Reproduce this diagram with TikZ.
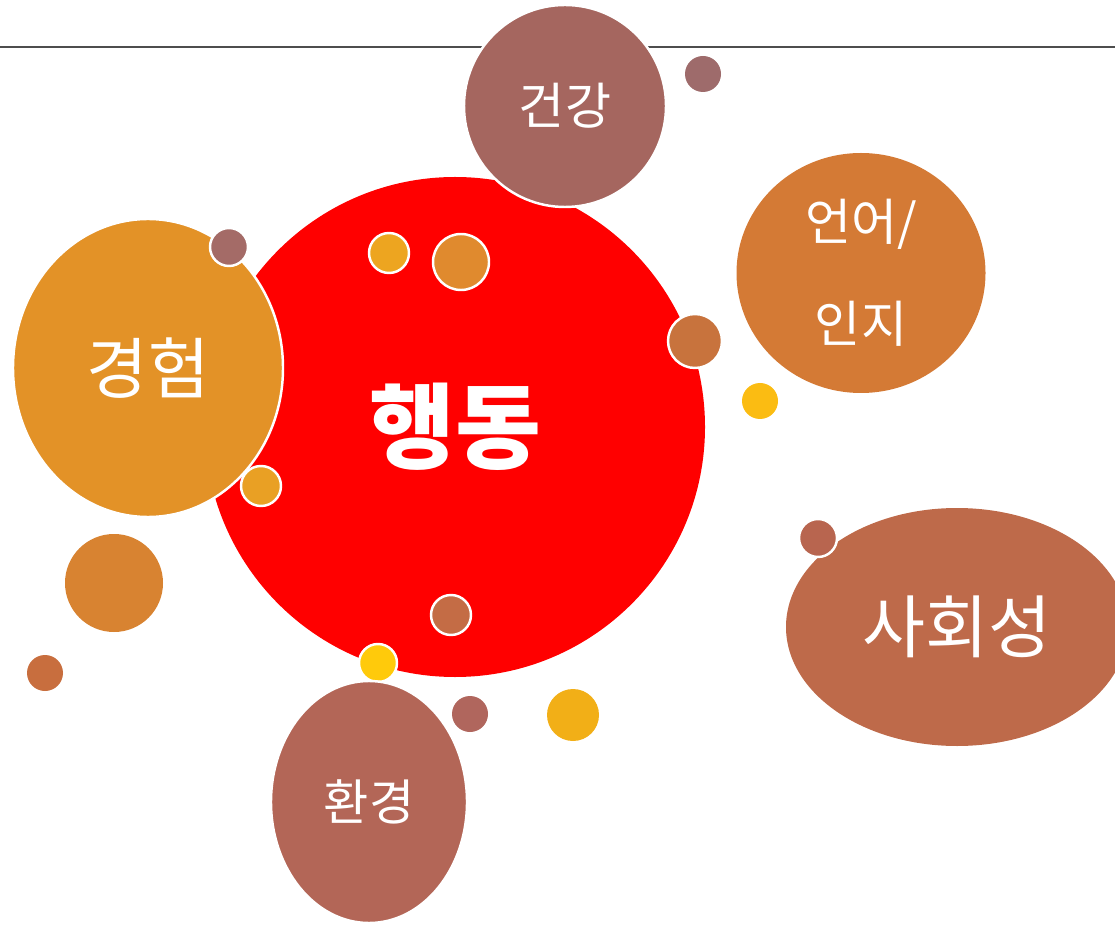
\documentclass[tikz,border=0pt]{standalone}
\usepackage{fontspec}
\setmainfont{Noto Sans CJK KR}
\usetikzlibrary{shapes.geometric}
\definecolor{cRed}{HTML}{FF0000}
\definecolor{cHealth}{HTML}{A5665F}
\definecolor{cMauve}{HTML}{9E6B6B}
\definecolor{cLang}{HTML}{D47A35}
\definecolor{cYel}{HTML}{FBBC12}
\definecolor{cExp}{HTML}{E39227}
\definecolor{cExpDot}{HTML}{A46B67}
\definecolor{cOrA}{HTML}{E9A024}
\definecolor{cOrB}{HTML}{EDA520}
\definecolor{cOrC}{HTML}{E08A2E}
\definecolor{cCop}{HTML}{C8733D}
\definecolor{cCopB}{HTML}{C46C45}
\definecolor{cGold}{HTML}{FFCA0B}
\definecolor{cEnv}{HTML}{B36657}
\definecolor{cEnvDot}{HTML}{B0665D}
\definecolor{cAmb}{HTML}{F2AF17}
\definecolor{cOrD}{HTML}{D88331}
\definecolor{cCopC}{HTML}{C86E3E}
\definecolor{cSoc}{HTML}{BE6A4A}
\definecolor{cSocDot}{HTML}{B8654F}
\definecolor{cLine}{HTML}{4D4D4D}
\def\pu{0.02cm}
\tikzset{
  blob/.style={ellipse, draw=white, line width=1.4pt, inner sep=0pt, text=white, align=center},
  dot/.style n args={2}{blob, fill=#1, minimum width={2*#2*\pu}, minimum height={2*#2*\pu}},
  oval/.style n args={3}{blob, fill=#1, minimum width={2*#2*\pu}, minimum height={2*#3*\pu}},
}
\begin{document}
\begin{tikzpicture}[x=\pu, y=-\pu]
\useasboundingbox (0,0) rectangle (1115,925);
\clip (0,0) rectangle (1115,925);
\coordinate (lineL) at (0,47);
\coordinate (lineR) at (1115,47);
\draw[cLine, line width=1.7pt] (lineL) -- (lineR);
\node[oval={cRed}{250}{250}, draw=none, font=\fontsize{53}{55}\selectfont\bfseries] (act) at (455,427) {행동};
\node[oval={cHealth}{101}{101}, font=\fontsize{28.5}{30}\selectfont] (health) at (565,106) {건강};
\node[dot={cMauve}{18}, draw=none] (d1) at (703,74) {};
\node[oval={cLang}{124.5}{120}, draw=none, font=\fontsize{28.5}{58}\selectfont] (lang) at (861,273) {언어/\\인지};
\node[dot={cYel}{18}, draw=none] (d2) at (760,401) {};
\node[oval={cExp}{135}{149}, font=\fontsize{38}{40}\selectfont] (exp) at (148,368) {경험};
\node[dot={cExpDot}{19}] (d3) at (229,247) {};
\node[dot={cOrA}{20}] (d4) at (261,486) {};
\node[dot={cOrB}{20}] (d5) at (389,253) {};
\node[dot={cOrC}{28}] (d6) at (461,262) {};
\node[dot={cCop}{27}] (d7) at (695,341) {};
\node[dot={cCopB}{20}] (d8) at (451,615) {};
\node[dot={cGold}{19}] (d9) at (378,663) {};
\node[oval={cEnv}{98}{121}, font=\fontsize{28}{30}\selectfont] (env) at (369,802) {환경};
\node[dot={cEnvDot}{18}, draw=none] (d10) at (470,714) {};
\node[dot={cAmb}{26}, draw=none] (d11) at (573,715) {};
\node[oval={cOrD}{49}{49}, draw=none] (d12) at (114,583) {};
\node[dot={cCopC}{18}, draw=none] (d13) at (45,673) {};
\node[oval={cSoc}{171}{119}, draw=none, font=\fontsize{39}{41}\selectfont] (soc) at (957,627) {사회성};
\node[dot={cSocDot}{19}] (d14) at (818,538) {};
\end{tikzpicture}
\end{document}
